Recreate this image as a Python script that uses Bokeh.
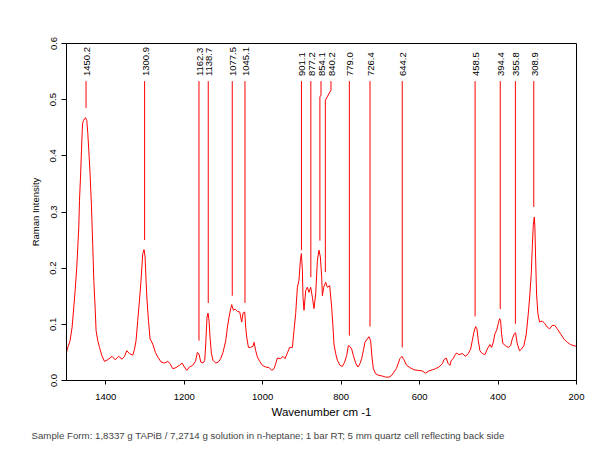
import math
from bokeh.plotting import figure
from bokeh.models import (FixedTicker, PrintfTickFormatter, Range1d, ColumnDataSource,
                          Title, LabelSet)
from bokeh.core.properties import value
from bokeh.embed import file_html
from bokeh.resources import INLINE

# ---- spectrum (wavenumber cm-1, Raman intensity) ----
wavenumber = [
    1500, 1496.7, 1490.8, 1485.7, 1481.4, 1478, 1473.8, 1471.2, 1468.7, 1466.9, 1464.3,
    1461.8, 1459.2, 1456.7, 1451.6, 1448.3, 1445.7, 1443.2, 1439.9, 1436.3, 1433, 1430.4,
    1427.1, 1424.6, 1420.3, 1415.9, 1410, 1403.2, 1394.8, 1383.8, 1376.2, 1366.8, 1358.3,
    1352.2, 1346.4, 1339.5, 1331.1, 1326.8, 1322.7, 1318.4, 1314, 1310, 1305.6, 1302.3,
    1299.7, 1297.2, 1294.7, 1291.1, 1287, 1280.1, 1273.3, 1267.4, 1259, 1250.3, 1241.9,
    1236, 1229.2, 1220.8, 1212.1, 1205.5, 1199.4, 1193.5, 1186.6, 1178.2, 1171.3, 1166.3,
    1162.2, 1157.8, 1151.9, 1147.6, 1145.1, 1141.8, 1139.2, 1136.7, 1134.1, 1130.6, 1126.5,
    1119.6, 1112.7, 1106.9, 1101, 1094.1, 1089.8, 1085.7, 1081.4, 1078.9, 1074.5, 1070.4,
    1064.3, 1058.5, 1053.4, 1050.1, 1045.7, 1043.2, 1040.6, 1036.3, 1030.4, 1024.6, 1022,
    1017.7, 1013.4, 1007.5, 1000.6, 992.2, 983.8, 976.9, 971, 966.7, 962.4, 954, 948.1,
    943, 936.9, 931.1, 924.2, 920.1, 915.8, 911.5, 907.5, 903.8, 901.3, 898.7, 897.2,
    894.6, 890.3, 886, 881.9, 877.6, 873.2, 869.2, 864.8, 860.5, 856.4, 852.9, 849.5,
    847.8, 844.4, 839.4, 835, 829.2, 824.1, 820.7, 818.2, 813.9, 809.6, 802.9, 796.8,
    790.9, 785.8, 781.5, 778.2, 773.1, 768.8, 762.9, 757, 751.9, 747.6, 743.3, 739.3,
    733.1, 729.1, 724.7, 721.4, 717.8, 712, 703.6, 694.9, 686.5, 678.1, 671.2, 665.4,
    659.2, 654.1, 650, 644.9, 639.9, 633, 624.5, 614.4, 604.2, 593, 584.6, 576.2, 567.5,
    559.1, 550.7, 542, 537.9, 531.8, 527.8, 522.7, 519, 514, 510.7, 505.6, 499.7, 491.1,
    482.7, 475.8, 469.9, 465.6, 461.5, 457.2, 453.8, 450.3, 446.2, 440.1, 433.5, 427.4,
    420.8, 416.4, 412.1, 408, 403.7, 399.4, 396.1, 393.5, 391, 387.7, 380.8, 373.9, 368,
    363.7, 358.6, 355.3, 350.9, 345.1, 340, 334.1, 328, 322.9, 318.8, 315.3, 312.7, 310.2,
    307.6, 306.1, 304.3, 301.8, 298.4, 294.1, 287.3, 280.6, 274.5, 268.6, 261.8, 255.1,
    249, 240.6, 232.2, 223.6, 215.2, 206.7, 200]
intensity = [
    0.050, 0.059, 0.071, 0.095, 0.131, 0.160, 0.202, 0.238, 0.273, 0.321, 0.362,
    0.410, 0.457, 0.463, 0.468, 0.463, 0.440, 0.410, 0.368, 0.309, 0.238, 0.178,
    0.131, 0.089, 0.071, 0.059, 0.0445, 0.034, 0.037, 0.043, 0.037, 0.043, 0.038,
    0.043, 0.053, 0.048, 0.045, 0.055, 0.071, 0.107, 0.143, 0.178, 0.226, 0.233,
    0.220, 0.178, 0.143, 0.107, 0.074, 0.065, 0.050, 0.042, 0.033, 0.031, 0.034,
    0.030, 0.021, 0.023, 0.027, 0.031, 0.024, 0.018, 0.024, 0.027, 0.034, 0.050,
    0.047, 0.033, 0.031, 0.036, 0.065, 0.113, 0.120, 0.107, 0.077, 0.048, 0.036,
    0.031, 0.033, 0.039, 0.050, 0.071, 0.095, 0.113, 0.128, 0.135, 0.125, 0.127,
    0.123, 0.122, 0.104, 0.120, 0.122, 0.095, 0.077, 0.059, 0.059, 0.061, 0.068,
    0.053, 0.042, 0.034, 0.027, 0.024, 0.023, 0.018, 0.021, 0.030, 0.040, 0.039, 0.043,
    0.039, 0.049, 0.059, 0.059, 0.089, 0.119, 0.166, 0.178, 0.214, 0.226, 0.196, 0.148,
    0.125, 0.160, 0.166, 0.157, 0.166, 0.148, 0.128, 0.154, 0.214, 0.232, 0.220, 0.184,
    0.151, 0.166, 0.175, 0.166, 0.169, 0.131, 0.095, 0.065, 0.048, 0.036, 0.027, 0.025,
    0.033, 0.0445, 0.062, 0.061, 0.056, 0.0445, 0.031, 0.024, 0.030, 0.039, 0.053, 0.068,
    0.074, 0.078, 0.071, 0.042, 0.021, 0.012, 0.009, 0.008, 0.006, 0.006, 0.009, 0.015,
    0.021, 0.031, 0.039, 0.043, 0.037, 0.027, 0.023, 0.019, 0.018, 0.017, 0.013, 0.017, 0.019,
    0.021, 0.024, 0.030, 0.037, 0.040, 0.031, 0.027, 0.036, 0.039, 0.0445, 0.049, 0.046, 0.048,
    0.043, 0.048, 0.056, 0.071, 0.086, 0.096, 0.092, 0.071, 0.053, 0.048, 0.046, 0.056,
    0.064, 0.059, 0.068, 0.083, 0.089, 0.101, 0.110, 0.107, 0.083, 0.066, 0.062, 0.059, 0.062,
    0.074, 0.083, 0.085, 0.065, 0.053, 0.056, 0.062, 0.083, 0.119, 0.154, 0.190, 0.238, 0.276,
    0.291, 0.273, 0.220, 0.154, 0.119, 0.104, 0.106, 0.101, 0.095, 0.092, 0.098, 0.098,
    0.092, 0.083, 0.074, 0.068, 0.064, 0.062, 0.061]

# ---- peak annotations ----
peak_labels = ["1450.2", "1300.9", "1162.3", "1138.7", "1077.5", "1045.1", "901.1", "877.2",
               "854.1", "840.2", "779.0", "726.4", "644.2", "458.5", "394.4", "355.8", "308.9"]
peak_pos = [float(s) for s in peak_labels]
# label positions where the label is displaced from its peak
label_pos = [1450.2, 1300.9, 1162.3, 1138.7, 1077.5, 1045.1, 901.1, 877.2,
             851.3, 825.9, 779.0, 726.4, 644.2, 458.5, 394.4, 355.8, 308.9]
marker_end = [0.485, 0.250, 0.071, 0.138, 0.151, 0.138, 0.232, 0.184,
              0.249, 0.193, 0.080, 0.096, 0.059, 0.114, 0.127, 0.101, 0.309]
marker_top = 0.533
jog_upper = [0.533] * 8 + [0.508, 0.517] + [0.533] * 7
jog_lower = [0.533] * 8 + [0.505, 0.499] + [0.533] * 7
label_y = 0.542

x_ticks = [1400, 1200, 1000, 800, 600, 400, 200]
y_ticks = [0.0, 0.1, 0.2, 0.3, 0.4, 0.5, 0.6]

footer = ("Sample Form:  1,8337 g  TAPiB / 7,2714 g solution in n-heptane;  1 bar  RT;  "
          "5 mm quartz cell reflecting back side")

FONT = "Liberation Sans"

p = figure(width=597, height=459, output_backend="svg", toolbar_location=None,
           x_range=Range1d(1500, 200), y_range=Range1d(0, 0.6),
           min_border_left=66, min_border_right=21, min_border_top=43,
           min_border_bottom=79, background_fill_color="white",
           border_fill_color="white")
p.outline_line_color = "black"
p.outline_line_width = 1
p.xgrid.visible = False
p.ygrid.visible = False

p.line(wavenumber, intensity, line_color="#ff0000", line_width=1)

xs = [[lp, lp, pp, pp] for lp, pp in zip(label_pos, peak_pos)]
ys = [[marker_top, ju, jl, me] for ju, jl, me in zip(jog_upper, jog_lower, marker_end)]
p.multi_line(xs, ys, line_color="#ff0000", line_width=1)

src = ColumnDataSource(dict(x=label_pos, y=[label_y] * len(label_pos), t=peak_labels))
p.add_layout(LabelSet(x="x", y="y", text="t", source=src, angle=math.pi / 2,
                      text_align="left", text_baseline="middle", x_offset=1,
                      text_font=value(FONT), text_font_size=value("9.5px"),
                      text_color="black"))

xa = p.xaxis[0]
xa.ticker = FixedTicker(ticks=x_ticks)
xa.axis_label = "Wavenumber cm -1"
ya = p.yaxis[0]
ya.ticker = FixedTicker(ticks=y_ticks)
ya.formatter = PrintfTickFormatter(format="%.1f")
ya.axis_label = "Raman Intensity"
ya.major_label_orientation = "vertical"

for ax in (xa, ya):
    ax.major_tick_in = 0
    ax.major_tick_out = 5
    ax.minor_tick_in = 0
    ax.minor_tick_out = 0
    ax.axis_line_color = "black"
    ax.major_tick_line_color = "black"
    ax.major_label_text_font = FONT
    ax.major_label_text_font_size = "9.5px"
    ax.major_label_text_color = "black"
    ax.axis_label_text_font = FONT
    ax.axis_label_text_font_style = "normal"
    ax.axis_label_text_color = "black"
xa.major_tick_out = 4
xa.major_label_standoff = 9
xa.axis_label_text_font_size = "11.5px"
xa.axis_label_standoff = 3
ya.major_label_standoff = 5
ya.axis_label_text_font_size = "9.5px"
ya.axis_label_standoff = 7

p.add_layout(Title(text=footer, align="left", text_font=FONT, text_font_size="9.7px",
                   text_font_style="normal", offset=-35, standoff=15), "below")

open("out.html", "w").write(file_html(p, INLINE))
